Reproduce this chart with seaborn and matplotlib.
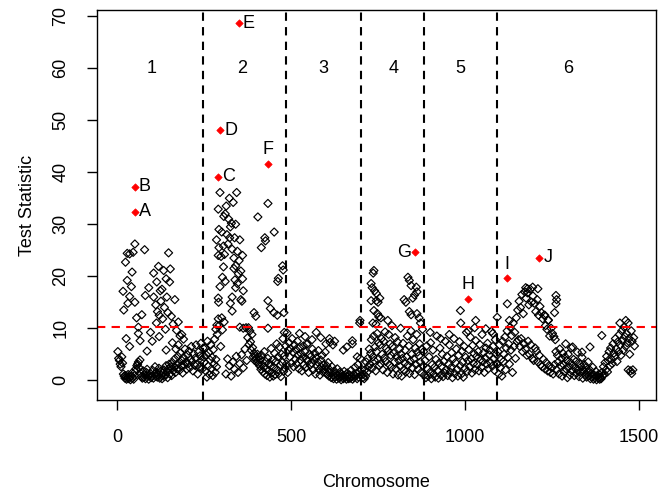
import numpy as np
import pandas as pd
import matplotlib
matplotlib.use("Agg")
import matplotlib.pyplot as plt
import seaborn as sns

# ---------------- data ----------------
# dense "background" tracks: (start, end) of the marker index range + values
chr1_low_span = (1, 249)
chr1_low = [5.5, 4.2, 3.8, 3.1, 2.6, 4.5, 3.3, 1.2, 0.8, 0.4, 0.9, 0.2, 0.5, 1.1, 0.3, 0.6, 0.1, 0.8, 1.4, 0.5,
            0.2, 0.9, 1.6, 2.2, 2.8, 3.1, 3.5, 2.4, 3.9, 1.3, 0.7, 0.4, 1.8, 0.6, 1.1, 0.3, 1.5, 2.1, 0.8, 0.2,
            0.9, 1.3, 0.5, 0.7, 1.9, 0.4, 1.2, 2.6, 0.8, 1.5, 0.6, 1.0, 2.3, 0.4, 1.7, 0.9, 0.3, 1.4, 2.0, 0.7,
            1.1, 2.8, 1.6, 0.5, 2.2, 3.1, 1.2, 2.6, 0.9, 3.4, 1.8, 2.5, 4.1, 1.5, 3.0, 2.2, 4.6, 3.3, 1.9, 5.2,
            2.7, 3.8, 1.4, 4.4, 2.9, 6.0, 3.5, 2.1, 4.9, 3.2, 5.6, 2.4, 4.0, 6.5, 3.6, 1.8, 5.1, 2.9, 4.3, 6.8,
            3.0, 1.2, 5.4, 2.5, 4.7, 7.1, 3.9, 2.2, 6.2, 4.4]
chr1_high_x = [16, 23, 28, 35, 45, 50, 42, 28, 35, 18, 30, 55, 60, 65, 40, 50, 25, 35, 80, 78,
               90, 104, 113, 118, 123, 133, 142, 147, 150, 152, 104, 110, 115, 120, 125, 130, 135, 140, 145, 155,
               160, 165, 170, 175, 180, 112, 128, 138, 158, 168, 185, 95, 70, 85, 100, 60, 140, 175, 190, 120]
chr1_high_y = [17.1, 22.7, 24.4, 24.3, 24.6, 26.2, 20.8, 19.2, 16.1, 13.5, 14.8, 12.0, 9.0, 7.6, 18.0, 15.0, 8.0, 6.5, 16.3, 25.1,
               17.8, 20.6, 18.9, 21.9, 17.2, 21.1, 16.0, 24.5, 18.9, 21.4, 16.0, 14.5, 13.2, 12.5, 15.2, 11.8, 14.0, 19.5, 13.0, 12.3,
               10.8, 15.5, 9.6, 11.2, 8.5, 11.0, 17.5, 9.8, 7.2, 6.0, 8.8, 9.2, 12.6, 5.6, 7.5, 10.2, 5.8, 6.8, 7.9, 8.4]

chr2_low_a_span = (250, 285)
chr2_low_a = [3.5, 6.2, 1.8, 4.9, 0.6, 7.5, 2.7, 5.3, 1.1, 3.9, 6.8, 2.2, 4.4, 0.9, 5.9, 3.1, 7.9, 1.5, 4.0, 2.6]
chr2_low_b_span = (287, 372)
chr2_low_b = [8.8, 10.5, 6.5, 9.7, 11.2, 1.2, 4.1, 2.8, 0.8, 3.5, 2.1, 4.6, 1.5, 3.2, 4.9, 2.4, 6.0, 3.8]
chr2_low_c_span = (375, 492)
chr2_low_c = [8.2, 10.1, 6.9, 9.5, 7.4, 5.8, 8.8, 6.3, 4.5, 5.2, 3.8, 4.6, 4.1, 3.5, 5.0, 3.2, 4.4, 2.8, 3.9, 2.1,
              4.8, 3.0, 1.6, 2.5, 5.5, 1.2, 3.6, 2.2, 0.9, 4.2, 1.8, 3.3, 0.6, 2.7, 6.1, 1.4, 3.9, 0.8, 2.4, 5.2,
              1.1, 3.6, 7.0, 2.0, 4.5, 1.3, 6.4, 2.9, 0.7, 5.0, 3.4, 8.0, 1.7, 4.7, 2.3, 6.6, 3.1, 9.1, 1.5, 5.8]
chr2_high_x = [295, 343, 333, 290, 310, 320, 328, 292, 340, 323, 337, 352, 292, 305, 318, 330, 345, 290, 298, 308,
               335, 360, 305, 335, 340, 348, 302, 310, 338, 345, 360, 295, 340, 362, 290, 291, 330, 355, 358, 325,
               330, 300, 315, 325, 285, 350, 355, 313, 306, 322,
               433, 404, 424, 426, 414, 451, 475, 477, 463, 461, 433, 440, 450, 460, 479, 393, 398, 290, 300, 286,
               283, 352, 362, 370, 433, 480]
chr2_high_y = [36.1, 36.1, 34.2, 32.9, 32.0, 31.0, 30.2, 29.0, 30.0, 27.4, 27.4, 27.0, 25.5, 25.8, 26.2, 25.2, 24.8, 24.0, 23.8, 24.2,
               23.5, 24.0, 21.8, 21.5, 22.0, 20.5, 19.8, 19.0, 19.3, 18.6, 19.5, 18.0, 17.8, 17.2, 15.8, 15.0, 16.0, 15.5, 15.2, 14.8,
               13.3, 28.5, 28.0, 29.5, 27.0, 23.0, 21.0, 33.5, 31.5, 35.0,
               34.0, 31.4, 27.4, 26.8, 25.5, 28.5, 22.0, 21.2, 19.6, 19.0, 15.3, 13.8, 13.0, 12.5, 13.0, 13.0, 12.3, 11.8, 12.0, 10.6,
               9.8, 10.2, 10.0, 10.1, 10.0, 9.2]

chr3_low_a_span = (494, 600)
chr3_low_a = [7.2, 4.5, 6.1, 3.3, 8.0, 5.4, 2.6, 6.8, 4.0, 5.9, 3.1, 7.5, 4.8, 2.2, 6.3, 3.9, 5.1, 1.8, 4.4, 6.6,
              3.0, 5.5, 2.4, 4.1, 7.0, 3.6, 1.5, 5.0, 2.9, 4.6, 3.3, 6.0, 2.0, 3.8, 5.2, 1.2, 4.3, 2.7, 3.5, 5.7,
              2.1, 1.0, 3.9, 2.5, 4.8, 1.6, 3.0, 2.2, 5.4, 1.4]
chr3_low_b_span = (602, 703)
chr3_low_b = [2.8, 1.1, 3.4, 0.8, 2.0, 1.5, 0.5, 2.6, 1.0, 0.3, 1.8, 0.7, 1.3, 0.2, 2.2, 0.9, 0.4, 1.5, 0.6, 0.1,
              1.2, 0.8, 0.3, 1.7, 0.5, 0.9, 0.2, 1.4, 0.6, 0.3, 1.0, 0.4, 1.9, 0.7, 0.2, 1.1, 0.5, 2.5, 0.8, 1.3,
              0.3, 3.0, 0.6, 1.6, 4.2, 0.9, 2.1]
chr3_high_x = [524, 572, 560, 600, 610, 620, 625, 612, 650, 660, 676, 676, 690, 697, 698, 540, 585, 545]
chr3_high_y = [9.0, 9.2, 7.8, 7.0, 8.0, 6.8, 7.5, 7.3, 5.8, 6.4, 7.6, 7.0, 4.5, 11.0, 11.5, 8.4, 8.2, 6.9]

chr4_low_span = (706, 880)
chr4_low = [0.5, 1.2, 0.3, 2.0, 0.8, 3.5, 1.5, 4.2, 2.6, 6.0, 3.1, 5.2, 7.8, 2.3, 4.5, 8.5, 3.8, 6.4, 1.8, 5.5,
            9.0, 4.0, 7.2, 2.8, 6.8, 3.2, 8.0, 5.0, 2.0, 7.5, 4.3, 9.3, 3.6, 6.1, 1.5, 5.6, 8.8, 3.0, 7.0, 4.8,
            2.5, 6.5, 1.2, 5.2, 3.5, 8.2, 2.2, 4.6, 7.4, 1.0, 3.8, 6.0, 2.7, 5.0, 0.8, 4.2, 7.1, 2.0, 3.3, 5.8,
            1.6, 4.5, 8.5, 2.9, 6.6, 1.3, 3.7, 9.5, 5.0, 2.4, 7.8, 4.1, 1.1, 6.2, 3.0, 8.8, 5.4, 2.1, 4.7, 7.0,
            3.5, 1.5, 6.0, 9.8, 2.8]
chr4_high_x = [736, 738, 730, 733, 740, 745, 730, 745, 755, 750, 738, 748, 752, 758, 735, 744,
               836, 840, 845, 860, 862, 855, 850, 825, 830, 840, 845, 862, 868, 872, 778, 790, 815]
chr4_high_y = [20.6, 21.1, 18.6, 17.8, 17.2, 16.7, 15.3, 15.3, 15.8, 15.0, 13.4, 12.8, 12.2, 12.0, 11.0, 10.8,
               19.8, 19.2, 18.2, 17.9, 17.0, 16.4, 15.8, 15.5, 15.0, 13.2, 12.6, 12.8, 12.0, 11.0, 11.5, 10.5, 10.0]

chr5_low_span = (881, 1092)
chr5_low = [5.5, 1.0, 3.8, 0.5, 6.6, 2.2, 0.8, 4.5, 1.5, 7.2, 0.3, 3.0, 5.8, 1.2, 2.5, 0.6, 4.0, 8.5, 1.8, 0.4,
            3.3, 6.2, 1.0, 2.7, 5.0, 0.7, 3.6, 1.4, 7.5, 2.0, 4.6, 0.9, 3.1, 6.8, 1.6, 2.4, 5.3, 0.5, 4.1, 8.0,
            1.3, 3.4, 6.0, 2.1, 0.8, 4.8, 7.4, 2.8, 1.1, 5.6, 3.5, 0.6, 6.5, 2.3, 4.4, 9.2, 1.7, 3.8, 5.9, 2.6,
            8.3, 4.1, 1.4, 6.7, 3.2, 5.1, 2.0, 7.6, 4.6, 3.0, 5.5, 1.8, 6.9, 4.0, 2.5, 8.8, 3.6, 5.3, 1.5, 4.3,
            6.2, 3.1, 7.1, 2.2, 4.9, 5.8, 3.4, 9.4, 2.7, 6.5, 4.1, 1.9, 7.8, 5.0, 3.3]
chr5_high_x = [987, 988, 1031, 1028, 955, 1010, 1060, 1080, 900, 930]
chr5_high_y = [13.4, 11.0, 11.5, 10.1, 8.8, 9.5, 9.9, 9.0, 9.2, 8.0]

chr6_low_a_span = (1093, 1150)
chr6_low_a = [3.0, 5.5, 1.2, 6.8, 2.4, 4.0, 0.8, 7.5, 3.6, 5.0, 8.3, 2.0, 6.2, 9.5, 4.4, 7.0, 3.1, 10.2, 5.8, 8.6,
              1.5, 11.0, 6.5, 9.2, 4.2, 12.0, 7.4]
chr6_low_b_span = (1152, 1260)
chr6_low_b = [13.5, 7.8, 15.2, 6.5, 14.0, 8.0, 16.5, 5.5, 12.8, 7.0, 17.0, 6.0, 15.8, 4.8, 16.8, 7.5, 14.5, 5.0, 17.5, 6.8,
              15.0, 4.2, 16.2, 3.8, 14.8, 6.2, 13.2, 5.6, 15.5, 3.5, 12.5, 4.8, 14.2, 3.0, 13.0, 2.6, 11.8, 4.0, 12.5, 2.2,
              10.5, 3.4, 9.8, 1.8, 11.5, 2.8, 8.5, 1.5, 10.0, 2.4, 9.0, 1.2, 8.4, 3.0, 7.8]
chr6_low_c_span = (1262, 1390)
chr6_low_c = [5.5, 2.0, 4.8, 3.5, 1.2, 6.0, 2.8, 4.2, 0.8, 5.2, 3.0, 1.6, 4.5, 2.2, 3.8, 0.5, 5.0, 2.6, 1.0, 3.4,
              6.2, 1.8, 2.9, 4.0, 0.9, 2.3, 3.6, 1.4, 5.4, 2.0, 0.7, 3.2, 1.5, 2.6, 4.4, 0.4, 1.9, 3.0, 1.1, 2.4,
              0.6, 1.6, 3.5, 0.9, 2.0, 0.3, 1.3, 0.7, 2.5, 0.2, 1.0, 0.5, 1.7, 0.1, 0.8, 0.4, 1.2, 0.2, 0.6]
chr6_low_d_span = (1392, 1488)
chr6_low_d = [0.3, 1.5, 0.8, 2.6, 1.2, 3.4, 2.0, 4.6, 1.6, 3.8, 5.5, 2.8, 6.2, 4.0, 3.2, 7.0, 5.2, 4.5, 8.0, 6.0,
              3.6, 7.4, 5.5, 8.8, 6.8, 4.8, 9.5, 7.6, 5.8, 10.2, 8.4, 6.5, 9.0, 7.2, 11.0, 8.0, 5.0, 1.8, 9.5, 7.5,
              2.0, 8.2, 6.6]
chr6_high_x = [1093, 1122, 1128, 1175, 1180, 1195, 1210, 1262, 1264, 1262, 1258, 1337, 1360, 1394, 1446, 1463,
               1470, 1480, 1290, 1310, 1230, 1240]
chr6_high_y = [12.1, 14.7, 11.5, 17.8, 17.6, 17.9, 17.6, 16.3, 15.5, 14.7, 13.0, 5.4, 6.4, 8.6, 11.0, 11.5,
               2.0, 1.3, 7.0, 6.4, 12.5, 11.6]

# highlighted SNPs
top_labels = ["A", "B", "C", "D", "E", "F", "G", "H", "I", "J"]
top_x = [51, 49, 289, 295, 349, 432, 856, 1010, 1122, 1214]
top_y = [32.4, 37.2, 39.1, 48.1, 68.7, 41.6, 24.6, 15.7, 19.6, 23.6]
top_side = ["right", "right", "right", "right", "right", "top", "left", "top", "top", "right"]

chrom_names = ["1", "2", "3", "4", "5", "6"]
chrom_label_x = [97, 358, 593, 796, 988, 1297]
chrom_label_y = 60
chrom_bounds = [246, 484, 701, 881, 1093]
threshold = 10.3

# ---------------- build table ----------------
tracks = [
    (chr1_low_span, chr1_low), (chr2_low_a_span, chr2_low_a), (chr2_low_b_span, chr2_low_b),
    (chr2_low_c_span, chr2_low_c), (chr3_low_a_span, chr3_low_a), (chr3_low_b_span, chr3_low_b),
    (chr4_low_span, chr4_low), (chr5_low_span, chr5_low), (chr6_low_a_span, chr6_low_a),
    (chr6_low_b_span, chr6_low_b), (chr6_low_c_span, chr6_low_c), (chr6_low_d_span, chr6_low_d),
]
xs, ys = [], []
for (a, b), vals in tracks:
    xs.extend(np.linspace(a, b, len(vals)))
    ys.extend(vals)
for hx, hy in [(chr1_high_x, chr1_high_y), (chr2_high_x, chr2_high_y), (chr3_high_x, chr3_high_y),
               (chr4_high_x, chr4_high_y), (chr5_high_x, chr5_high_y), (chr6_high_x, chr6_high_y)]:
    xs.extend(hx)
    ys.extend(hy)
df = pd.DataFrame({"Chromosome": xs, "Test Statistic": ys})
top = pd.DataFrame({"x": top_x, "y": top_y, "lab": top_labels, "side": top_side})

# ---------------- plot ----------------
sns.set_style("ticks")
plt.rcParams["font.family"] = ["Liberation Sans", "DejaVu Sans"]
plt.rcParams["text.color"] = "black"
plt.rcParams["axes.labelcolor"] = "black"
plt.rcParams["xtick.color"] = "black"
plt.rcParams["ytick.color"] = "black"

fig = plt.figure(figsize=(6.69, 4.92), dpi=100)
ax = fig.add_axes([97 / 669, 92 / 492, 559 / 669, 390 / 492])

sns.scatterplot(data=df, x="Chromosome", y="Test Statistic", ax=ax, marker="D", s=17,
                facecolor="none", edgecolor="black", linewidth=0.85, legend=False)
sns.scatterplot(data=top, x="x", y="y", ax=ax, marker="D", s=14, color="red",
                edgecolor="red", linewidth=0.5, legend=False)

for _, r in top.iterrows():
    if r["side"] == "right":
        ax.annotate(r["lab"], (r["x"], r["y"]), xytext=(3, 0), textcoords="offset points",
                    ha="left", va="center", fontsize=13, color="black")
    elif r["side"] == "left":
        ax.annotate(r["lab"], (r["x"], r["y"]), xytext=(-3, 0), textcoords="offset points",
                    ha="right", va="center", fontsize=13, color="black")
    else:
        ax.annotate(r["lab"], (r["x"], r["y"]), xytext=(0, 4), textcoords="offset points",
                    ha="center", va="bottom", fontsize=13, color="black")

for b in chrom_bounds:
    ax.axvline(b, color="black", linestyle=(0, (4, 3)), linewidth=1.5)
ax.axhline(threshold, color="red", linestyle=(0, (4, 3)), linewidth=1.5)

for name, lx in zip(chrom_names, chrom_label_x):
    ax.text(lx, chrom_label_y, name, ha="center", va="center", fontsize=13, color="black")

ax.set_xlim(-59, 1550)
ax.set_ylim(-3.8, 71.2)
ax.set_xticks([0, 500, 1000, 1500])
ax.set_yticks(range(0, 71, 10))
ax.tick_params(axis="both", direction="out", length=7, width=1, labelsize=13, color="black",
               labelcolor="black")
ax.tick_params(axis="x", pad=14)
ax.tick_params(axis="y", pad=13)
for lab in ax.get_yticklabels():
    lab.set_rotation(90)
    lab.set_va("center")
ax.set_xlabel("Chromosome", fontsize=13, labelpad=20, color="black")
ax.set_ylabel("Test Statistic", fontsize=13, labelpad=12, color="black")
for sp in ax.spines.values():
    sp.set_visible(True)
    sp.set_color("black")
    sp.set_linewidth(1)

fig.savefig("out.png", dpi=100)
